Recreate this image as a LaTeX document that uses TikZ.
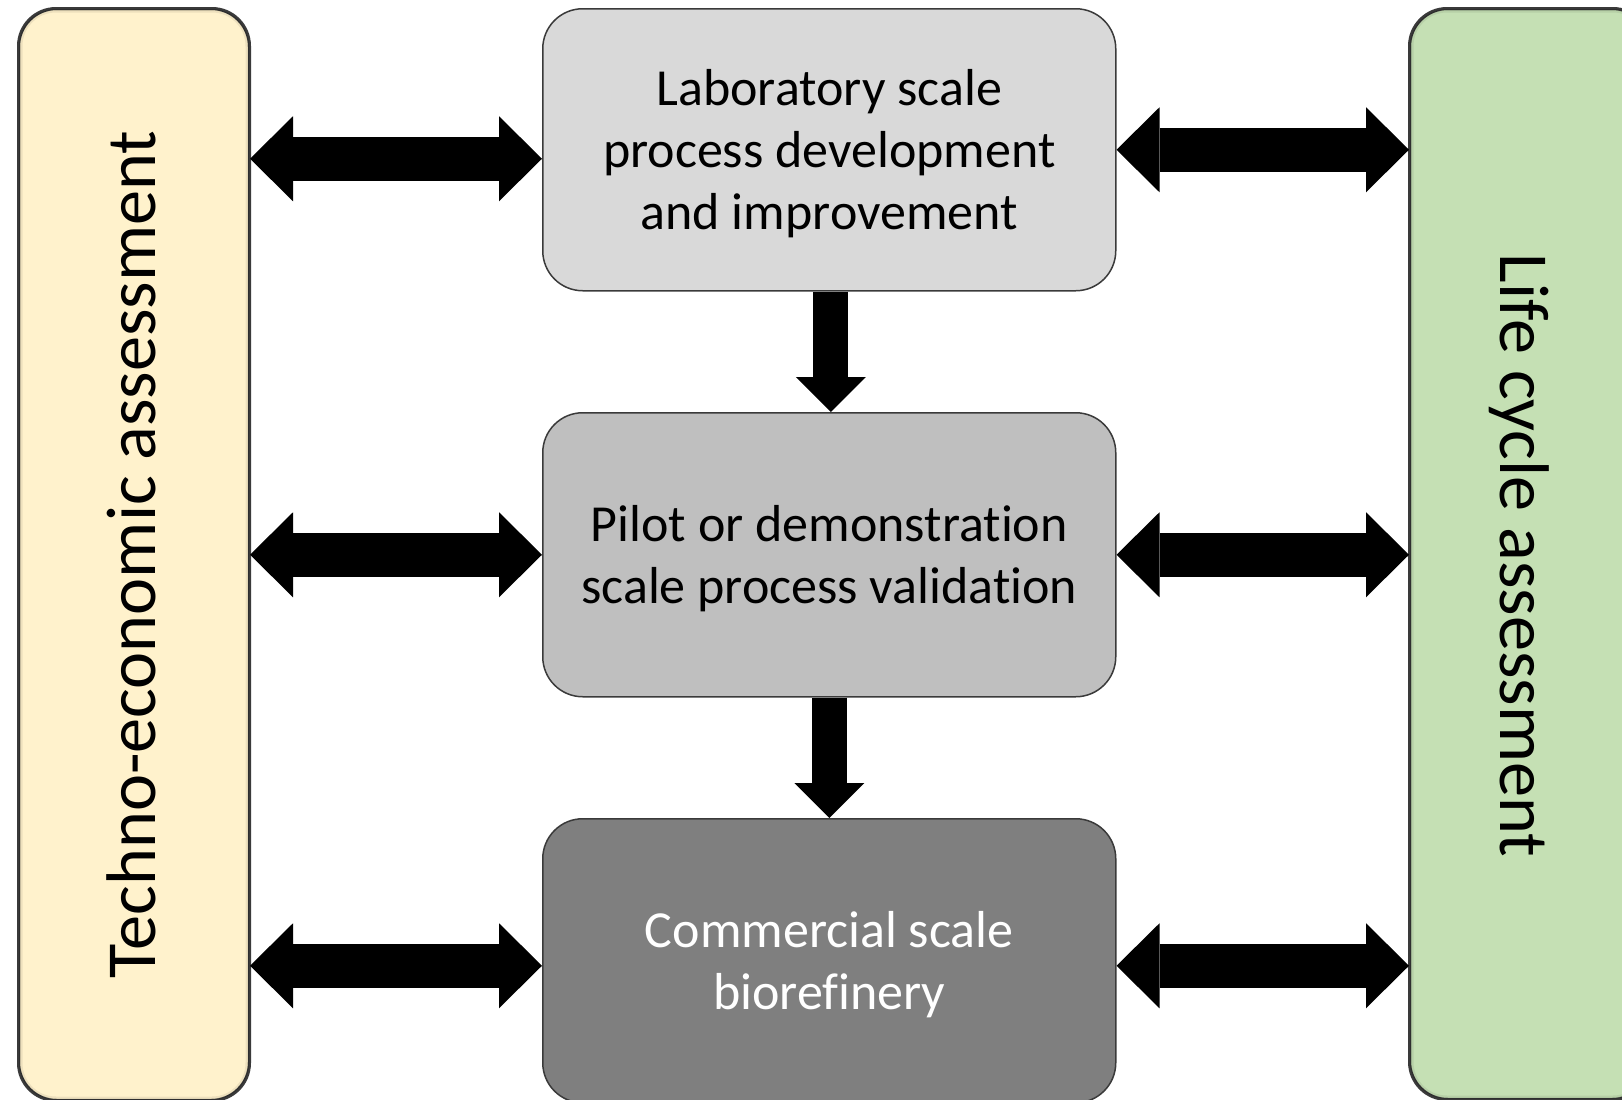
\documentclass[tikz,border=0pt]{standalone}
\usepackage{fontspec}
\setmainfont{Carlito}[Ligatures=NoCommon]
\usetikzlibrary{arrows.meta}

\definecolor{teafill}{HTML}{FFF2CC}
\definecolor{lcafill}{HTML}{C5E0B4}
\definecolor{labfill}{HTML}{D9D9D9}
\definecolor{pilotfill}{HTML}{BFBFBF}
\definecolor{comfill}{HTML}{7F7F7F}
\definecolor{edge}{HTML}{3A3A3A}

\begin{document}
\begin{tikzpicture}[x=1pt,y=-1pt,
  stagebox/.style={draw=edge, line width=1.5pt, rounded corners=40pt, inner sep=0pt,
    anchor=north west, minimum width=573pt},
  stagetext/.style={align=center, inner sep=0pt, font=\fontsize{52}{62}\selectfont},
  sidebox/.style={draw=edge, line width=2pt, rounded corners=38pt, inner sep=0pt,
    anchor=north west},
  sidetext/.style={font=\fontsize{70.3}{84}\selectfont, anchor=base, inner sep=0pt},
  glow/.style={rounded corners=38pt, draw=black},
  twoway/.style={line width=44pt,
    {Triangle[length=43pt,width=85pt,line width=0pt]}-{Triangle[length=43pt,width=85pt,line width=0pt]}},
  oneway/.style={line width=35pt, -{Triangle[length=35pt,width=70pt,line width=0pt]}}
]
\useasboundingbox (0,0) rectangle (1622,1100);
\clip (0,0) rectangle (1622,1100);

% side assessment columns
\node[sidebox, fill=teafill, minimum width=230pt, minimum height=1091pt] (tea) at (18,8) {};
\node[sidebox, fill=lcafill, minimum width=240pt, minimum height=1090pt] (lca) at (1409,8) {};

% soft inner edge of the side columns
\foreach \b in {tea,lca}{
  \begin{scope}
    \clip[rounded corners=38pt] (\b.north west) rectangle (\b.south east);
    \draw[glow, line width=9pt, opacity=0.07] (\b.north west) rectangle (\b.south east);
    \draw[glow, line width=5pt, opacity=0.12] (\b.north west) rectangle (\b.south east);
  \end{scope}
  \draw[draw=edge, line width=2pt, rounded corners=38pt] (\b.north west) rectangle (\b.south east);
}

\node[sidetext, rotate=90] (teatext) at (155,554.5) {Techno-economic assessment};
\node[sidetext, rotate=-90] (lcatext) at (1500,555.5) {Life cycle assessment};

% process development stages
\node[stagebox, fill=labfill, minimum height=282pt] (lab) at (542,8) {};
\node[stagebox, fill=pilotfill, minimum height=284pt] (pilot) at (542,412) {};
\node[stagebox, fill=comfill, minimum height=284pt] (com) at (542,818) {};

\node[stagetext] (labtext) at ([yshift=-3.5pt]lab.center)
  {Laboratory scale\\process development\\and improvement};
\node[stagetext] (pilottext) at ([yshift=-3.5pt]pilot.center)
  {Pilot or demonstration\\scale process validation};
\node[stagetext, text=white] (comtext) at ([yshift=-3.5pt]com.center)
  {Commercial scale\\biorefinery};

% scale-up flow
\draw[oneway] ([xshift=1.5pt]lab.south) -- ([xshift=1.5pt]lab.south |- pilot.north);
\draw[oneway] (pilot.south) -- (com.north);

% exchange with the assessments
\draw[twoway] ([yshift=-9pt]tea.east |- lab.west) -- ([yshift=-9pt]lab.west);
\draw[twoway] (lab.east) -- (lab.east -| lca.west);
\draw[twoway] (tea.east |- pilot.west) -- (pilot.west);
\draw[twoway] (pilot.east) -- (pilot.east -| lca.west);
\draw[twoway] ([yshift=-5pt]tea.east |- com.west) -- ([yshift=-5pt]com.west);
\draw[twoway] ([yshift=-5pt]com.east) -- ([yshift=-5pt]com.east -| lca.west);
\end{tikzpicture}
\end{document}
